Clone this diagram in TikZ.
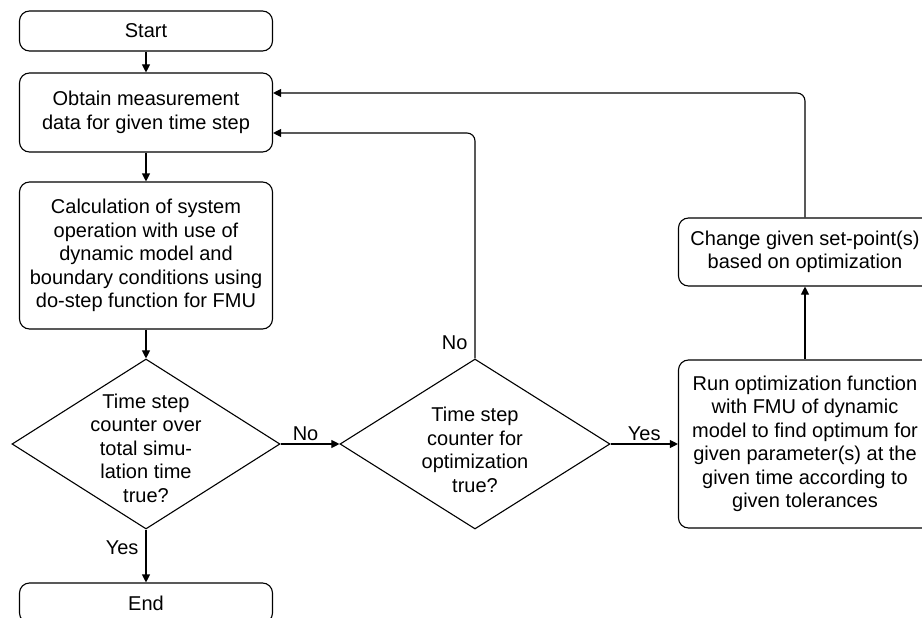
\documentclass[tikz,border=0pt]{standalone}
\usepackage{fontspec}
\setmainfont{Liberation Sans}
\usetikzlibrary{shapes.geometric,positioning,arrows.meta}

\begin{document}
\begin{tikzpicture}[x=1pt,y=-1pt,>={Triangle[length=8pt,width=8pt]},line width=1.1pt,
box/.style = {draw, rounded corners=10pt, minimum width=253pt, inner sep=0pt, align=center, font=\fontsize{20}{23.5}\selectfont},
decision/.style = {draw, diamond, inner sep=0pt, minimum width=268pt, minimum height=170pt},
txt/.style = {inner sep=3pt, font=\fontsize{20}{23.5}\selectfont},]
\useasboundingbox (0,0) rectangle (922,618);
\clip (0,0) rectangle (922,618);
\node (start) at (146,31)[box,minimum height=40pt] {Start};
\node (obtain) at (146,112.5)[box,minimum height=79pt] {Obtain measurement\\data for given time step};
\node (calc) at (146,255.5)[box,minimum height=147pt] {Calculation of system\\operation with use of\\dynamic model and\\boundary conditions using\\do-step function for FMU};
\node (check1) at (146,444)[decision,label={[txt,align=center,yshift=-4pt]center:Time step\\counter over\\total simu-\\lation time\\true?}] {};
\node (stop) at (146,603)[box,minimum height=40pt] {End};
\node (check2) at (475,444)[decision,minimum width=270pt,label={[txt,align=center,yshift=-6pt]center:Time step\\counter for\\optimization\\true?}] {};
\node (optim) at (805,444)[box,minimum height=168pt] {Run optimization function\\with FMU of dynamic\\model to find optimum for\\given parameter(s) at the\\given time according to\\given tolerances};
\node (change) at (805,252)[box,minimum height=68pt] {Change given set-point(s)\\based on optimization};
\draw[->] (start) -- (obtain);
\draw[->] (obtain) -- (calc);
\draw[->] (calc) -- (check1);
\draw[->] (check1) -- node[txt,left=4pt,pos=0.35] {Yes} (stop);
\draw[->] (check1) -- node[txt,above,pos=0.425] {No} (check2);
\draw[->] (check2) -- node[txt,above] {Yes} (optim);
\draw[->] (optim) -- (change);
\draw[->,rounded corners=8pt] (change.north) |- ([yshift=19.5pt]obtain.east);
\draw[->,rounded corners=8pt] (check2.north) |- node[txt,left=4pt,pos=0.035] {No} ([yshift=-20.5pt]obtain.east);
\end{tikzpicture}
\end{document}
